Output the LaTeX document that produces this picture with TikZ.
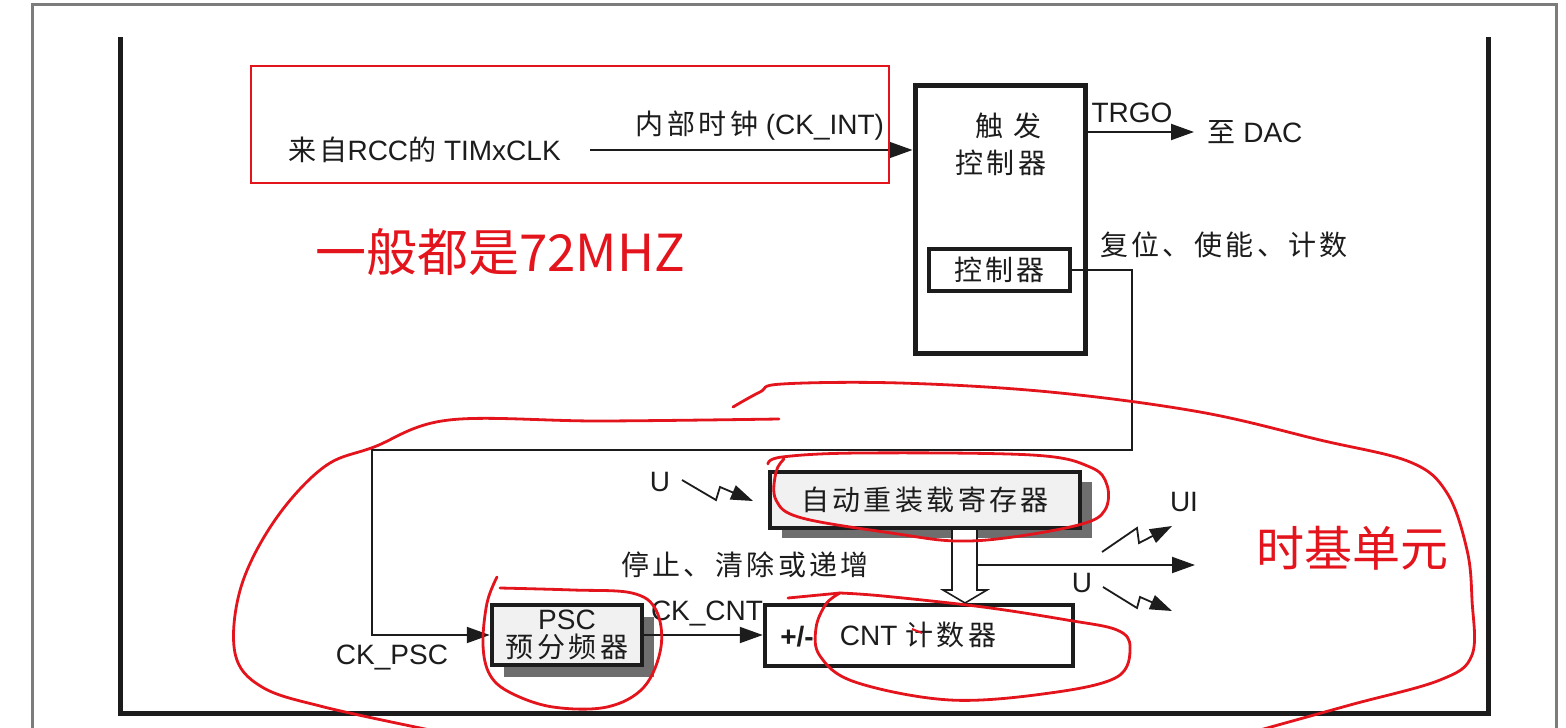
\documentclass[tikz,border=0pt]{standalone}
\usepackage{fontspec}
\setmainfont{Liberation Sans}
\newfontfamily\cjk[LetterSpace=12]{Noto Sans CJK SC}
\newfontfamily\cjkr{Noto Sans CJK SC}
\usetikzlibrary{arrows.meta,shadows}
\definecolor{ink}{HTML}{1C1C1C}
\definecolor{handred}{HTML}{E3141C}
\definecolor{boxfill}{HTML}{F1F1F1}
\definecolor{shade}{HTML}{6E6E6E}
\definecolor{framegray}{HTML}{7C7C7C}
\begin{document}
\begin{tikzpicture}[x=1pt,y=-1pt,
  lbl/.style={font=\fontsize{28}{32}\selectfont, inner sep=0pt, text=ink},
  conn/.style={draw=ink, line width=2pt},
  arr/.style={conn, -{Triangle[length=23pt,width=16pt]}},
  zap/.style={draw=ink, line width=1.8pt, line join=miter, -{Triangle[length=22pt,width=15pt]}},
  hand/.style={draw=handred, line width=2.8pt, line cap=round, line join=round},
  thickbox/.style={draw=ink, line width=5pt, inner sep=0pt},
  regbox/.style={draw=ink, line width=4.5pt, fill=boxfill, inner sep=0pt, text=ink}
]
\useasboundingbox (0,0) rectangle (1566,728);
\fill[white] (0,0) rectangle (1566,728);

% outer frames
\draw[framegray, line width=3pt] (32,728) -- (32,4) -- (1556,4) -- (1556,728);
\draw[ink, line width=5pt] (120,37) -- (120,713) -- (1488,713) -- (1488,37);

% trigger controller
\node[thickbox, minimum width=170pt, minimum height=268pt] (trig) at (1000,219) {};
\node[lbl] (trigA) at (1008,126) {\cjk 触\hspace{10pt}发};
\node[lbl] (trigB) at (1001,163) {\cjk 控制器};
\node[draw=ink, line width=4pt, minimum width=141pt, minimum height=42pt, inner sep=0pt,
      font=\cjk\fontsize{28}{32}\selectfont, text=ink] (ctrl) at (999.5,270) {控制器};

% clock input
\node[lbl, anchor=west] (rcc) at (288,150) {{\cjk 来自}RCC{\cjk 的} TIMxCLK};
\coordinate (clkstart) at (590,150);
\draw[arr] (clkstart) -- (trig.west |- clkstart);
\node[lbl] (ckint) at (760,126) {{\cjk 内部时钟} (CK\_INT)};

% TRGO
\coordinate (dac) at (1194,132);
\draw[arr] (trig.east |- dac) -- (dac);
\node[lbl] (trgo) at (1132,113) {TRGO};
\node[lbl] (dactext) at (1255,132) {{\cjk 至} DAC};
\node[lbl] (rst) at (1224,245) {\cjk 复位、使能、计数};

% auto reload register
\node[regbox, minimum width=310pt, minimum height=56pt, font=\cjk\fontsize{28}{32}\selectfont,
      drop shadow={shadow xshift=12pt, shadow yshift=-10pt, fill=shade, opacity=1}] (arrbox) at (925,500) {自动重装载寄存器};

% prescaler
\node[regbox, minimum width=150pt, minimum height=60pt, align=center, font=\fontsize{28}{28}\selectfont,
      drop shadow={shadow xshift=12pt, shadow yshift=-12pt, fill=shade, opacity=1}] (psc) at (567,635) {PSC\\{\cjk 预分频器}};

% counter
\node[draw=ink, line width=4.5pt, fill=white, minimum width=308pt, minimum height=61pt, inner sep=0pt] (cnt) at (919,635.5) {};
\node[lbl, font=\fontsize{28}{32}\selectfont\bfseries] (pm) at (797,637) {+/-};
\node[lbl] (cnttext) at (918,635) {CNT {\cjk 计数器}};

% loop connection from controller to prescaler
\coordinate (c1) at (1132,450);
\coordinate (c2) at (372,450);
\draw[arr] (ctrl.east) -| (c1) -- (c2) |- (psc.west);
\node[lbl] (ckpsc) at (392,657) {CK\_PSC};

% psc -> cnt
\draw[arr] (psc.east) -- (cnt.west |- psc.east);
\node[lbl] (ckcnt) at (707,613) {CK\_CNT};
\node[lbl] (stop) at (745,565) {\cjk 停止、清除或递增};

% hollow arrow from ARR to CNT
\draw[draw=ink, line width=1.6pt, fill=white, line join=miter]
  (952,530) -- (952,590) -- (943,590) -- (965,603) -- (987,590) -- (977,590) -- (977,530);
\coordinate (hollowR) at (977,565);
\coordinate (uevt) at (1195,565);
\draw[arr] (hollowR) -- (uevt);

% update events
\node[lbl] (uleft) at (660,482) {U};
\draw[zap] (682,480) -- (716,500) -- (720,487) -- (753,501);
\node[lbl] (ui) at (1184,502) {UI};
\draw[zap] (1102,552) -- (1137,528) -- (1139,543) -- (1172,526);
\node[lbl] (uright) at (1082,583) {U};
\draw[zap] (1103,587) -- (1137,608) -- (1140,597) -- (1172,611);

% red annotations
\draw[handred, line width=2.5pt] (251,66) rectangle (889,183);
\node[font=\cjkr\fontsize{51}{55}\selectfont, text=handred, inner sep=0pt] (mhz) at (500,252) {一般都是72MHZ};
\node[font=\cjkr\fontsize{48}{52}\selectfont, text=handred, inner sep=0pt] (tb) at (1352,548) {时基单元};

\draw[hand] plot[smooth, tension=0.6] coordinates {(733,407) (760,392) (782,384) (900,383) (1050,392) (1200,412) (1320,440) (1410,462) (1447,493) (1467,550) (1472,600) (1472,655) (1440,680) (1350,705) (1260,730)};
\draw[hand] plot[smooth, tension=0.6] coordinates {(779,419) (600,421) (449,420) (374,447) (324,467) (275,520) (241,587) (235,653) (262,687) (324,707) (430,730)};
\draw[hand] plot[smooth, tension=0.6] coordinates {(768,464) (782,457) (860,453) (1032,455) (1090,467) (1107,485) (1105,510) (1082,524) (1013,537) (956,541) (898,534) (802,518) (776,500) (776,472) (784,459)};
\draw[hand] plot[smooth, tension=0.6] coordinates {(497,577) (487,603) (483,645) (490,675) (511,693) (553,707) (607,707) (644,687) (661,647) (656,610) (632,593) (573,590) (500,588)};
\draw[hand] (788,598) -- (840,593);
\draw[hand] plot[smooth, tension=0.6] coordinates {(840,593) (826,604) (816,628) (820,656) (855,682) (950,700) (1050,693) (1117,677) (1130,647) (1117,630) (1067,620) (983,607) (883,596) (840,593)};
\draw[handred, line width=2pt] (912,629) -- (922,633);
\end{tikzpicture}
\end{document}
